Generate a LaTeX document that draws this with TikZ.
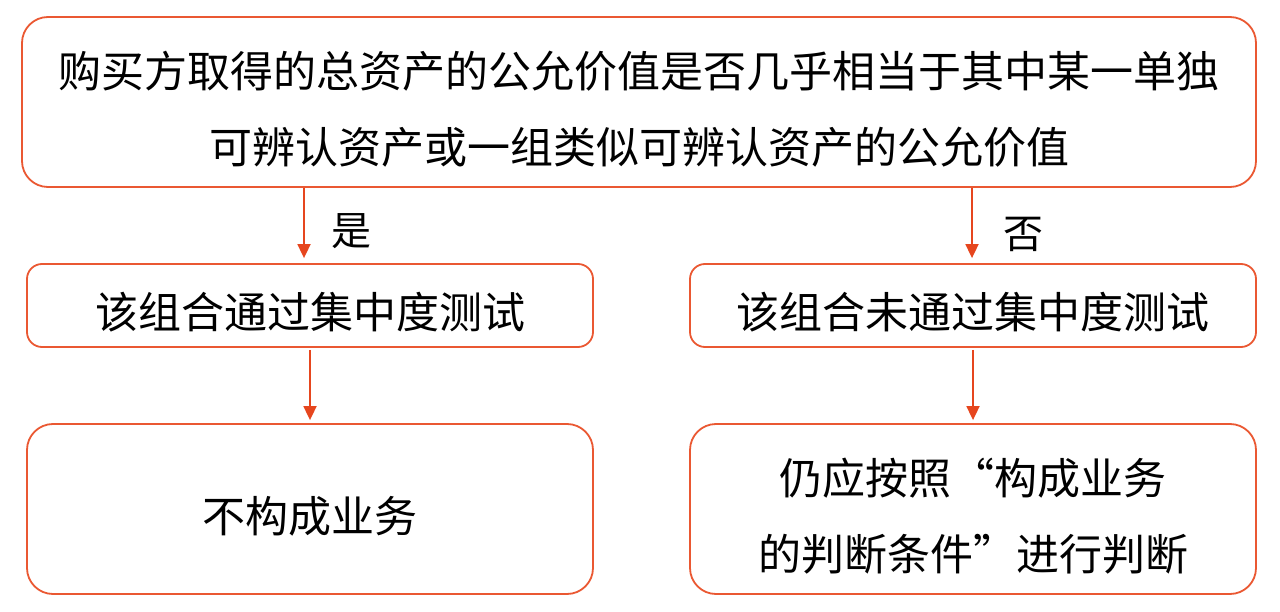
\documentclass[tikz,border=0pt]{standalone}
\usepackage{fontspec}
\setmainfont{Noto Sans CJK SC}
\usetikzlibrary{arrows.meta}
\definecolor{boxc}{RGB}{234,88,50}
\definecolor{arrc}{RGB}{230,70,30}
\tikzset{
  txt/.style={align=center, inner sep=0pt, yshift=-7pt, font=\fontsize{43}{76}\selectfont},
  bigbox/.style={draw=boxc, line width=1.8pt, rounded corners=26pt, inner sep=0pt},
  smallbox/.style={draw=boxc, line width=1.8pt, rounded corners=15pt, inner sep=0pt, minimum width=566pt, minimum height=83pt},
  arr/.style={draw=arrc, line width=1.8pt, -{Triangle[width=13pt,length=14pt]}},
  lbl/.style={font=\fontsize{40}{40}\selectfont, inner sep=0pt}
}
\begin{document}
\begin{tikzpicture}[x=1pt,y=-1pt]
\useasboundingbox (0,0) rectangle (1280,612);
\node[bigbox, minimum width=1234pt, minimum height=170pt, label={[txt]center:购买方取得的总资产的公允价值是否几乎相当于其中某一单独\\可辨认资产或一组类似可辨认资产的公允价值}] (top) at (639,102) {};
\node[smallbox, label={[txt]center:该组合通过集中度测试}] (l1) at (310,305.5) {};
\node[smallbox, label={[txt]center:该组合未通过集中度测试}] (r1) at (973,305.5) {};
\node[bigbox, minimum width=566pt, minimum height=170pt, label={[txt]center:不构成业务}] (l2) at (310,509) {};
\node[bigbox, minimum width=566pt, minimum height=170pt, label={[txt]center:仍应按照“构成业务\\的判断条件”进行判断}] (r2) at (973,509) {};
\coordinate (a1) at (304,0);
\coordinate (a2) at (972,0);
\coordinate (a3) at (310,0);
\coordinate (a4) at (973,0);
\draw[arr, shorten >=5pt] (top.south -| a1) -- (l1.north -| a1);
\draw[arr, shorten >=5pt] (top.south -| a2) -- (r1.north -| a2);
\draw[arr, shorten >=3pt, shorten <=2pt] (l1.south -| a3) -- (l2.north -| a3);
\draw[arr, shorten >=3pt, shorten <=2pt] (r1.south -| a4) -- (r2.north -| a4);
\node[lbl] (yes) at (351,231) {是};
\node[lbl] (no) at (1023,234) {否};
\end{tikzpicture}
\end{document}
